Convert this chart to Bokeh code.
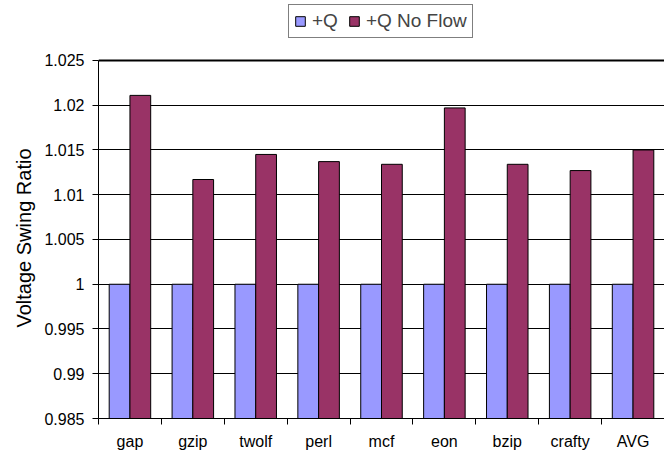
import numpy as np
from bokeh.plotting import figure
from bokeh.models import (FixedTicker, Legend, LegendItem, Span, ColumnDataSource,
                          Range1d, NumeralTickFormatter, Title)
from bokeh.transform import dodge
from bokeh.embed import file_html
from bokeh.resources import INLINE

categories = ["gap", "gzip", "twolf", "perl", "mcf", "eon", "bzip", "crafty", "AVG"]
series_names = ["+Q", "+Q No Flow"]
q_values = [1.0, 1.0, 1.0, 1.0, 1.0, 1.0, 1.0, 1.0, 1.0]
noflow_values = [1.0211, 1.0117, 1.0145, 1.0137, 1.0134, 1.0197, 1.0134, 1.0127, 1.0150]
y_ticks = [0.985, 0.99, 0.995, 1.0, 1.005, 1.01, 1.015, 1.02, 1.025]
y_label = "Voltage Swing Ratio"
Y_MIN, Y_MAX = 0.985, 1.025
Y_VIEW_TOP = 1.0317   # extra room above the axis for the legend

FONT = "Liberation Sans"
C_Q = "#9999FF"
C_NF = "#993366"

n = len(categories)
x_centers = list(np.arange(n) + 0.5)
source = ColumnDataSource(dict(x=x_centers, cat=categories, q=q_values, nf=noflow_values))

p = figure(width=664, height=455, output_backend="svg", toolbar_location=None,
           x_range=Range1d(0, n), y_range=Range1d(Y_MIN, Y_VIEW_TOP),
           min_border_left=98, min_border_right=0, min_border_top=0, min_border_bottom=37)
p.outline_line_color = None
p.background_fill_color = "white"
p.border_fill_color = "white"

bw = 0.33
r1 = p.vbar(x=dodge("x", -bw / 2, range=p.x_range), top="q", bottom=Y_MIN, width=bw,
            source=source, fill_color=C_Q, line_color="black", line_width=1)
r2 = p.vbar(x=dodge("x", bw / 2, range=p.x_range), top="nf", bottom=Y_MIN, width=bw,
            source=source, fill_color=C_NF, line_color="black", line_width=1)

# grid
p.xgrid.grid_line_color = None
p.ygrid.ticker = FixedTicker(ticks=y_ticks)
p.ygrid.grid_line_color = "black"
p.ygrid.grid_line_width = 1
p.add_layout(Span(location=Y_MAX, dimension="width", line_color="black", line_width=2))

# y axis
ya = p.yaxis[0]
ya.ticker = FixedTicker(ticks=y_ticks)
ya.bounds = (Y_MIN, Y_MAX)
ya.formatter = NumeralTickFormatter(format="0.[000]")
ya.major_label_text_font = FONT
ya.major_label_text_font_size = "16px"
ya.major_label_text_color = "black"
ya.major_tick_out = 6
ya.major_tick_in = 0
ya.minor_tick_line_color = None
ya.axis_line_color = "black"
ya.major_tick_line_color = "black"
ya.major_label_standoff = 8

# y axis title, centred on the axis extent rather than on the whole frame
ytitle = Title(text=y_label, align="left", offset=91, standoff=14,
               text_font=FONT, text_font_size="20px", text_font_style="normal",
               text_color="black")
p.add_layout(ytitle, "left")

# x axis
xa = p.xaxis[0]
xa.ticker = FixedTicker(ticks=x_centers, minor_ticks=list(range(n + 1)))
xa.major_label_overrides = {float(x): c for x, c in zip(x_centers, categories)}
xa.major_label_text_font = FONT
xa.major_label_text_font_size = "16px"
xa.major_label_text_color = "black"
xa.major_tick_line_color = None
xa.minor_tick_line_color = "black"
xa.minor_tick_out = 6
xa.minor_tick_in = 0
xa.axis_line_color = "black"
xa.major_label_standoff = 8

legend = Legend(items=[LegendItem(label=series_names[0], renderers=[r1]),
                       LegendItem(label=series_names[1], renderers=[r2])],
                orientation="horizontal", location=(190, 380),
                label_text_font=FONT, label_text_font_size="19px",
                glyph_width=12, glyph_height=12, label_standoff=6, spacing=10,
                padding=5, margin=0, label_height=18,
                border_line_color="black", border_line_width=1,
                background_fill_alpha=1.0)
p.add_layout(legend, "center")

open("out.html", "w").write(file_html(p, INLINE))
